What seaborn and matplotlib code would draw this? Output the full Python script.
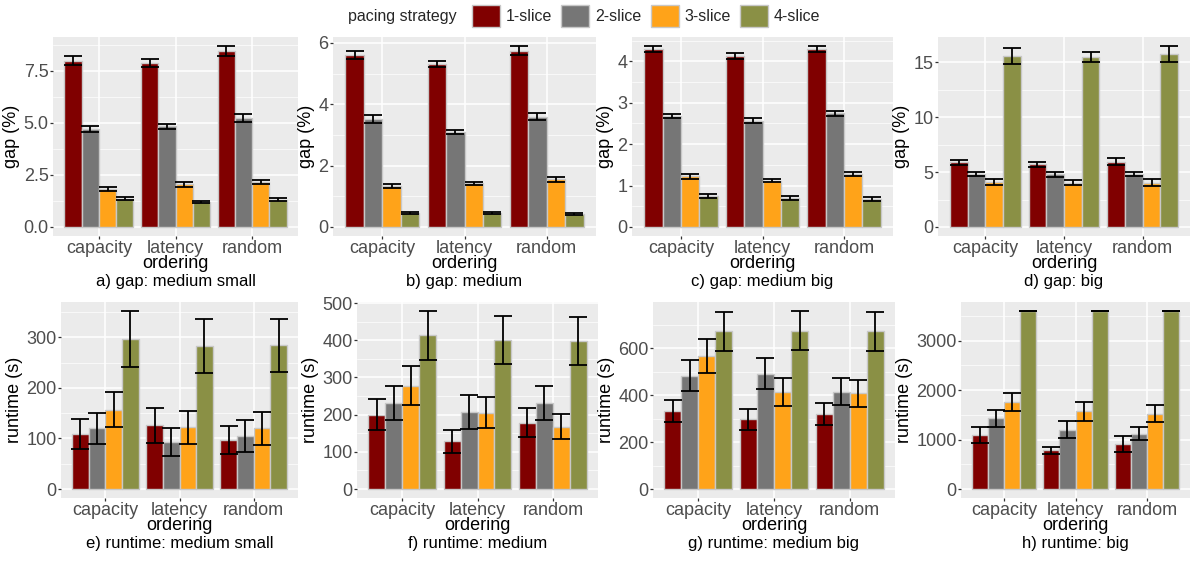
import numpy as np
import pandas as pd
import matplotlib
matplotlib.use("Agg")
import matplotlib.pyplot as plt
import seaborn as sns
from matplotlib.patches import Patch
from matplotlib.ticker import AutoMinorLocator

# ---------------- data ----------------
orderings = ["capacity", "latency", "random"]
strategies = ["1-slice", "2-slice", "3-slice", "4-slice"]
colors = ["#800000", "#767676", "#FFA319", "#8A9045"]

# rows = ordering (capacity, latency, random); cols = strategy (1..4-slice)
gap_ms_mean = [[8.00, 4.70, 1.82, 1.35], [7.90, 4.85, 2.06, 1.20], [8.45, 5.25, 2.15, 1.30]]
gap_ms_err = [[0.22, 0.15, 0.10, 0.07], [0.20, 0.12, 0.12, 0.06], [0.25, 0.18, 0.10, 0.07]]

gap_m_mean = [[5.60, 3.52, 1.33, 0.45], [5.32, 3.10, 1.42, 0.45], [5.75, 3.60, 1.55, 0.43]]
gap_m_err = [[0.13, 0.12, 0.06, 0.03], [0.10, 0.07, 0.06, 0.03], [0.15, 0.12, 0.08, 0.03]]

gap_mb_mean = [[4.30, 2.68, 1.22, 0.74], [4.12, 2.57, 1.12, 0.70], [4.30, 2.75, 1.27, 0.67]]
gap_mb_err = [[0.07, 0.06, 0.05, 0.05], [0.07, 0.05, 0.04, 0.05], [0.07, 0.06, 0.05, 0.05]]

gap_b_mean = [[5.90, 4.85, 4.10, 15.60], [5.70, 4.80, 4.05, 15.50], [5.95, 4.85, 4.05, 15.75]]
gap_b_err = [[0.25, 0.20, 0.25, 0.70], [0.20, 0.20, 0.20, 0.50], [0.30, 0.20, 0.30, 0.75]]

rt_ms_mean = [[109, 120, 157, 297], [126, 93, 122, 283], [97, 105, 120, 284]]
rt_ms_err = [[30, 31, 35, 55], [35, 28, 33, 53], [28, 31, 32, 53]]

rt_m_mean = [[200, 232, 278, 413], [128, 207, 205, 401], [179, 231, 168, 398]]
rt_m_err = [[42, 45, 52, 66], [32, 45, 42, 65], [38, 45, 34, 65]]

rt_mb_mean = [[333, 482, 567, 671], [297, 490, 412, 674], [320, 414, 408, 671]]
rt_mb_err = [[48, 66, 73, 84], [45, 66, 59, 84], [48, 58, 58, 83]]

rt_b_mean = [[1090, 1430, 1760, 3600], [780, 1200, 1570, 3600], [910, 1120, 1520, 3600]]
rt_b_err = [[155, 170, 190, 0], [80, 175, 185, 0], [160, 130, 170, 0]]

captions = ["a) gap: medium small", "b) gap: medium", "c) gap: medium big", "d) gap: big",
            "e) runtime: medium small", "f) runtime: medium", "g) runtime: medium big", "h) runtime: big"]
ylabels = ["gap (%)"] * 4 + ["runtime (s)"] * 4
yticks = [[0, 2.5, 5, 7.5], [0, 2, 4, 6], [0, 1, 2, 3, 4], [0, 5, 10, 15],
          [0, 100, 200, 300], [0, 100, 200, 300, 400, 500], [0, 200, 400, 600], [0, 1000, 2000, 3000]]
yticklabels = [["0.0", "2.5", "5.0", "7.5"], ["0", "2", "4", "6"], ["0", "1", "2", "3", "4"],
               ["0", "5", "10", "15"], ["0", "100", "200", "300"],
               ["0", "100", "200", "300", "400", "500"], ["0", "200", "400", "600"],
               ["0", "1000", "2000", "3000"]]
means = [gap_ms_mean, gap_m_mean, gap_mb_mean, gap_b_mean, rt_ms_mean, rt_m_mean, rt_mb_mean, rt_b_mean]
errs = [gap_ms_err, gap_m_err, gap_mb_err, gap_b_err, rt_ms_err, rt_m_err, rt_mb_err, rt_b_err]

# ---------------- style ----------------
sns.set_style("darkgrid", {"axes.facecolor": "#EBEBEB", "grid.color": "white"})
plt.rcParams['font.family'] = ['Liberation Sans', 'DejaVu Sans']

W, H = 1192, 561
fig = plt.figure(figsize=(W / 100, H / 100), dpi=100)

# panel boxes in pixels: (left, top, right, bottom)
boxes = [(53, 37, 298, 236), (333, 37, 596, 236), (632, 37, 893, 236), (938, 37, 1190, 236),
         (61, 302, 298, 498), (357, 302, 598, 498), (653, 302, 895, 498), (961, 302, 1190, 498)]

for k in range(8):
    l, t, r, b = boxes[k]
    ph = b - t
    ax = fig.add_axes([l / W, 1 - b / H, (r - l) / W, ph / H])
    m = np.array(means[k], dtype=float)
    e = np.array(errs[k], dtype=float)
    rows = []
    for i, o in enumerate(orderings):
        for j, s in enumerate(strategies):
            rows.append({"ordering": o, "strategy": s, "value": m[i, j], "err": e[i, j]})
    df = pd.DataFrame(rows)
    sns.barplot(data=df, x="ordering", y="value", hue="strategy", order=orderings,
                hue_order=strategies, palette=colors, width=0.9, errorbar=None,
                saturation=1, edgecolor="#C8C8C8", linewidth=1.0, legend=False, ax=ax)
    bar_containers = list(ax.containers)
    for j, cont in enumerate(bar_containers):
        s = strategies[j]
        for i, patch in enumerate(cont.patches):
            sub = df[(df.strategy == s) & (df.ordering == orderings[i])].iloc[0]
            xc = patch.get_x() + patch.get_width() / 2
            ax.errorbar(xc, sub["value"], yerr=sub["err"], fmt="none", ecolor="black",
                        elinewidth=1.3, capsize=6.5, capthick=1.3, zorder=5)
    top = float((df["value"] + df["err"]).max())
    ax.set_ylim(-0.05 * top, 1.05 * top)
    ax.set_xlim(-0.6, 2.6)
    ax.set_yticks(yticks[k])
    ax.set_yticklabels(yticklabels[k])
    ax.yaxis.set_minor_locator(AutoMinorLocator(2))
    ax.set_axisbelow(True)
    ax.grid(which="major", color="white", lw=1.1)
    ax.grid(which="minor", axis="y", color="white", lw=0.5)
    for sp in ax.spines.values():
        sp.set_visible(False)
    ax.tick_params(which="major", length=2.2, width=0.9, color="#333333", labelcolor="#4D4D4D",
                   labelsize=13, bottom=True, left=True)
    ax.tick_params(axis="y", pad=1)
    ax.tick_params(axis="x", pad=0.5)
    ax.tick_params(which="minor", length=0)
    ax.set_ylabel(ylabels[k], fontsize=13, color="black", labelpad=2.5)
    ax.set_xlabel("ordering", fontsize=13, color="black")
    ax.xaxis.set_label_coords(0.5, -19 / ph)
    ax.annotate(captions[k], xy=(0.5, 0), xycoords="axes fraction", xytext=(0, -27.5),
                textcoords="offset points", ha="center", va="top", fontsize=12,
                color="black")

handles = [Patch(facecolor=c, edgecolor="#C8C8C8") for c in colors]
fig.legend(handles=handles, labels=strategies, loc="center", bbox_to_anchor=(646 / W, 1 - 16 / H),
           ncol=4, frameon=False, fontsize=11.5, handlelength=1.75, handleheight=1.75,
           handletextpad=0.35, columnspacing=0.6, borderpad=0.1)
fig.text(348 / W, 1 - 16 / H, "pacing strategy", ha="left", va="center", fontsize=11.5)

fig.savefig("out.png", dpi=100)
